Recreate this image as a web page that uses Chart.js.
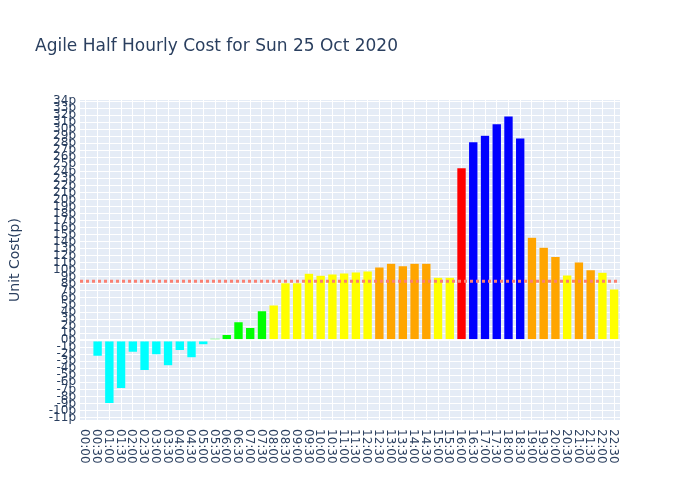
<!DOCTYPE html>
<html>
<head>
<meta charset="utf-8">
<script src="https://cdn.jsdelivr.net/npm/chart.js@4.4.0/dist/chart.umd.min.js"></script>
<style>
  html, body { margin: 0; padding: 0; background: #fff; }
  #wrap { width: 700px; height: 500px; }
</style>
</head>
<body>
<div id="wrap"><canvas id="c" width="700" height="500"></canvas></div>
<script>
const chartTitle = 'Agile Half Hourly Cost for Sun 25 Oct 2020';
const yTitle = 'Unit Cost(p)';
const timeLabels = ['00:00','00:30','01:00','01:30','02:00','02:30','03:00','03:30','04:00','04:30',
  '05:00','05:30','06:00','06:30','07:00','07:30','08:00','08:30','09:00','09:30',
  '10:00','10:30','11:00','11:30','12:00','12:30','13:00','13:30','14:00','14:30',
  '15:00','15:30','16:00','16:30','17:00','17:30','18:00','18:30','19:00','19:30',
  '20:00','20:30','21:00','21:30','22:00','22:30'];
const unitCost = [0, -2.27, -9.0, -6.87, -1.71, -4.31, -2.09, -3.65, -1.47, -2.51,
  -0.66, 0.19, 0.81, 2.61, 1.80, 4.17, 5.0, 8.18, 8.18, 9.51,
  9.23, 9.41, 9.55, 9.70, 9.84, 10.40, 10.93, 10.60, 10.93, 10.93,
  8.94, 8.94, 24.53, 28.23, 29.13, 30.79, 31.88, 28.75, 14.63, 13.21,
  11.88, 9.28, 11.12, 10.03, 9.67, 7.28];
const yMin = -11.35, yMax = 34.15;

const average = unitCost.reduce((a, b) => a + b, 0) / unitCost.length;

function barColour(v) {
  if (v < 0) return '#00FFFF';
  if (v < 5) return '#00FF00';
  if (v < 10) return '#FFFF00';
  if (v < 20) return '#FFA500';
  if (v < 26) return '#FF0000';
  return '#0000FF';
}

const FONT = '"DejaVu Sans", Verdana, Arial, sans-serif';
const TXT = '#2a3f5f';

const plotlyLook = {
  id: 'plotlyLook',
  beforeDraw(chart) {
    const { ctx, chartArea: a } = chart;
    ctx.save();
    ctx.fillStyle = '#ffffff';
    ctx.fillRect(0, 0, chart.width, chart.height);
    ctx.fillStyle = '#E5ECF6';
    ctx.fillRect(a.left, a.top, a.right - a.left, a.bottom - a.top);
    ctx.restore();
  },
  afterDatasetsDraw(chart) {
    const { ctx, chartArea: a } = chart;
    const y = chart.scales.y.getPixelForValue(average);
    ctx.save();
    ctx.strokeStyle = '#FA8072';
    ctx.lineWidth = 3;
    ctx.setLineDash([3, 3]);
    ctx.beginPath();
    ctx.moveTo(a.left, y);
    ctx.lineTo(a.right, y);
    ctx.stroke();
    ctx.restore();
  },
  afterDraw(chart) {
    const { ctx, chartArea: a } = chart;
    ctx.save();
    ctx.fillStyle = TXT;
    ctx.font = '17px ' + FONT;
    ctx.textAlign = 'left';
    ctx.textBaseline = 'alphabetic';
    ctx.fillText(chartTitle, 35, 51);
    ctx.save();
    ctx.translate(15, (a.top + a.bottom) / 2);
    ctx.rotate(-Math.PI / 2);
    ctx.font = '14px ' + FONT;
    ctx.textAlign = 'center';
    ctx.textBaseline = 'middle';
    ctx.fillText(yTitle, 0, 0);
    ctx.restore();
    const xs = chart.scales.x;
    ctx.font = '12px ' + FONT;
    ctx.textAlign = 'left';
    ctx.textBaseline = 'alphabetic';
    timeLabels.forEach((lab, i) => {
      const x = xs.getPixelForValue(i);
      ctx.save();
      ctx.translate(x, a.bottom + 9);
      ctx.rotate(Math.PI / 2);
      ctx.fillText(lab, 0, 4.4);
      ctx.restore();
    });
    ctx.restore();
  }
};

new Chart(document.getElementById('c'), {
  type: 'bar',
  data: {
    labels: timeLabels,
    datasets: [{
      data: unitCost,
      backgroundColor: unitCost.map(barColour),
      borderColor: '#E5ECF6',
      borderWidth: (c) => (Math.abs(c.raw) < 0.5 ? 0 : 0.5),
      barPercentage: 0.8,
      categoryPercentage: 1.0
    }]
  },
  options: {
    responsive: false,
    animation: false,
    events: [],
    layout: { padding: { top: 100, right: 80, left: 0, bottom: 0 } },
    plugins: { legend: { display: false }, title: { display: false }, tooltip: { enabled: false } },
    scales: {
      x: {
        type: 'category',
        offset: true,
        grid: { color: '#ffffff', lineWidth: 1, offset: false, drawTicks: false },
        border: { display: false },
        ticks: { display: false, autoSkip: false },
        afterFit(scale) { scale.height = 80; }
      },
      y: {
        min: yMin,
        max: yMax,
        grid: {
          color: '#ffffff',
          lineWidth: (c) => (c.tick && c.tick.value === 0 ? 2 : 1),
          drawTicks: false
        },
        border: { display: false },
        ticks: {
          stepSize: 1,
          autoSkip: false,
          includeBounds: false,
          padding: 4,
          color: TXT,
          font: { family: FONT, size: 12 },
          callback: (v) => v + 'p'
        },
        afterFit(scale) { scale.width = 80; }
      }
    }
  },
  plugins: [plotlyLook]
});
</script>
</body>
</html>
